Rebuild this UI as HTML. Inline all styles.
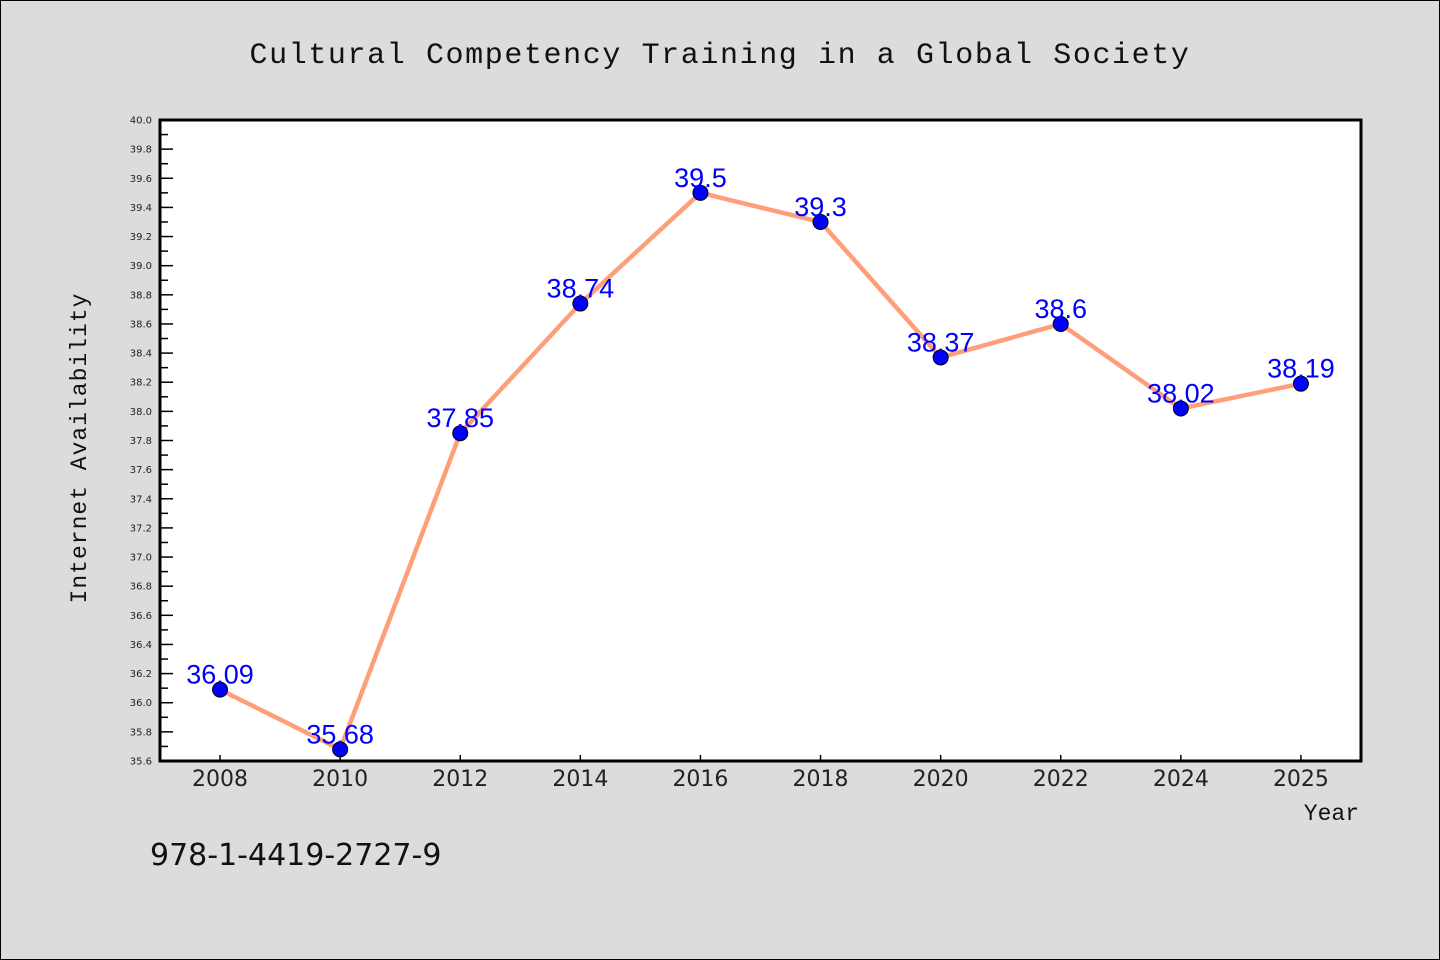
<!DOCTYPE html>
<html><head><meta charset="utf-8"><style>
body{margin:0;background:#dcdcdc;}
svg{display:block}
</style></head><body>
<svg width="1440" height="960" xmlns="http://www.w3.org/2000/svg">
<rect x="0.5" y="0.5" width="1439" height="959" fill="#dcdcdc" stroke="#000"/>
<text x="720" y="63" text-anchor="middle" font-family="'Liberation Mono',monospace" font-size="30" letter-spacing="1.6" fill="#111">Cultural Competency Training in a Global Society</text>
<rect x="160" y="120" width="1201" height="641" fill="#fff"/>
<g id="axes"></g>
<g id="series"></g>
<rect x="160" y="120" width="1201" height="641" fill="none" stroke="#000" stroke-width="3"/>
<text x="86" y="448" transform="rotate(-90 86 448)" text-anchor="middle" font-family="'Liberation Mono',monospace" font-size="23" letter-spacing="1" fill="#111">Internet Availability</text>
<text x="1359" y="820" text-anchor="end" font-family="'Liberation Mono',monospace" font-size="23" fill="#111">Year</text>
<text x="150" y="865" font-family="'DejaVu Sans',sans-serif" font-size="30" fill="#111">978-1-4419-2727-9</text>
</svg>
<script>
const categories=["2008","2010","2012","2014","2016","2018","2020","2022","2024","2025"];
const values=[36.09,35.68,37.85,38.74,39.5,39.3,38.37,38.6,38.02,38.19];
const valueLabels=["36.09","35.68","37.85","38.74","39.5","39.3","38.37","38.6","38.02","38.19"];
const yMin=35.6,yMax=40.0;
const NS="http://www.w3.org/2000/svg";
const L=160,R=1361,T=120,B=761;
const band=(R-L)/categories.length;
const xs=i=>L+band*(i+0.5);
const ys=v=>B-(v-yMin)/(yMax-yMin)*(B-T);
function mk(tag,attrs,parent){const e=document.createElementNS(NS,tag);for(const k in attrs)e.setAttribute(k,attrs[k]);parent.appendChild(e);return e;}
const axes=document.getElementById('axes'),ser=document.getElementById('series');
for(let k=0;k<=44;k++){
 const v=yMin+k*0.1,y=ys(v),major=k%2===0;
 const t=mk('line',{x1:L,x2:L+(major?13:8),y1:y,y2:y,stroke:'#000','stroke-width':1.5},axes);
 
 
 if(major){const tx=mk('text',{x:152,y:y+3.5,'text-anchor':'end','font-family':"'DejaVu Sans',sans-serif",'font-size':10,fill:'#222'},axes);tx.textContent=v.toFixed(1);
 
 }
}
categories.forEach((c,i)=>{
 const x=xs(i);
 const t=mk('line',{x1:x,x2:x,y1:B,y2:B-6,stroke:'#000','stroke-width':1.5},axes);
 
 
 const tx=mk('text',{x:x,y:786,'text-anchor':'middle','font-family':"'DejaVu Sans',sans-serif",'font-size':22,fill:'#222'},axes);
 tx.textContent=c;
 
 
});
const pl=mk('polyline',{points:values.map((v,i)=>xs(i)+','+ys(v)).join(' '),fill:'none',stroke:'#ff9f7a','stroke-width':4.5},ser);


values.forEach((v,i)=>{
 const c=mk('circle',{cx:xs(i),cy:ys(v),r:7.5,fill:'#0000ff',stroke:'#000','stroke-width':1},ser);
 
 
 const tx=mk('text',{x:xs(i),y:ys(v)-6,'text-anchor':'middle','font-family':"'Liberation Sans',sans-serif",'font-size':27,fill:'#0000ff'},ser);
 tx.textContent=valueLabels[i];
 
 
});
</script>
</body></html>
